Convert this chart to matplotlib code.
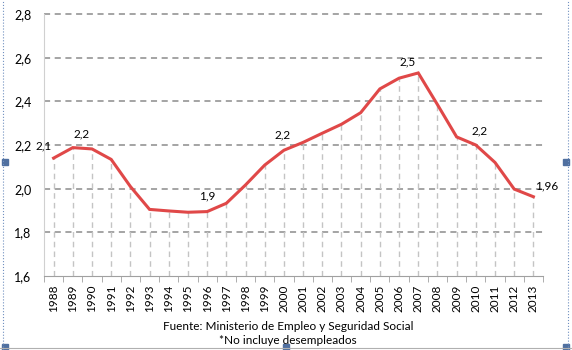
import numpy as np
import matplotlib.pyplot as plt
from matplotlib.patches import Rectangle

plt.rcParams['font.family'] = ['Lato', 'DejaVu Sans']

# datos
years = [str(y) for y in range(1988, 2014)]
values = [2.14, 2.188, 2.182, 2.134, 2.01, 1.905, 1.898, 1.892, 1.895, 1.933,
          2.017, 2.108, 2.176, 2.212, 2.254, 2.295, 2.348, 2.457, 2.506, 2.53,
          2.385, 2.237, 2.20, 2.12, 1.998, 1.963]
label_years = ['1988', '1989', '1996', '2000', '2007', '2010', '2013']
label_texts = ['2,1', '2,2', '1,9', '2,2', '2,5', '2,2', '1,96']
yticks = [1.6, 1.8, 2.0, 2.2, 2.4, 2.6, 2.8]

# desplazamiento de las etiquetas (px)
label_offsets = {'1988': (-10, 12), '1989': (8.5, 14), '1996': (0, 15.5),
                 '2000': (-1, 15), '2007': (-11, 11), '2010': (4, 14),
                 '2013': (2, 10.5)}

fig = plt.figure(figsize=(5.72, 3.5), dpi=100)
ax = fig.add_axes([44 / 572, 1 - 276 / 350, (543 - 44) / 572, (276 - 14) / 350])

x = np.arange(len(years))
ax.set_xlim(-0.5, len(years) - 0.5)
ax.set_ylim(1.6, 2.8)

# líneas de guía
for yv in yticks[1:]:
    ax.axhline(yv, color='#8c8c8c', lw=1.1, ls=(0, (4, 3)), zorder=1, clip_on=False)
ax.vlines(x, 1.6, values, colors='#c4c4c4', lw=1.0, linestyles=(0, (4, 3)), zorder=1)

ax.plot(x, values, color='#e04848', lw=2.2, solid_joinstyle='miter', zorder=3)

# etiquetas de datos
for yr, txt in zip(label_years, label_texts):
    i = years.index(yr)
    dx, dy = label_offsets[yr]
    ha = 'left' if yr == '2013' else 'center'
    ax.annotate(txt, (i, values[i]), xytext=(dx * 0.72, dy * 0.72),
                textcoords='offset points', ha=ha, va='center', fontsize=8.5)

for s in ['top', 'right']:
    ax.spines[s].set_visible(False)
ax.spines['left'].set_color('#d0d0d0')
ax.spines['bottom'].set_color('#a0a0a0')

ax.set_yticks(yticks)
ax.set_yticklabels([f'{t:.1f}'.replace('.', ',') for t in yticks], fontsize=9)
ax.tick_params(axis='y', length=0, pad=9)

ax.set_xticks(x)
ax.set_xticklabels(years, rotation=90, fontsize=8.5)
ax.tick_params(axis='x', which='major', length=0, pad=6)
ax.set_xticks(np.arange(-0.5, len(years)), minor=True)
ax.tick_params(axis='x', which='minor', length=4, color='#a0a0a0', direction='out')

fig.text(288 / 572, 1 - 326 / 350, 'Fuente: Ministerio de Empleo y Seguridad Social',
         ha='center', va='center', fontsize=8.5)
fig.text(288 / 572, 1 - 341 / 350, '*No incluye desempleados',
         ha='center', va='center', fontsize=8.5)

# marco de selección
fig.add_artist(plt.Line2D([3 / 572, 3 / 572], [0, 1], color='#7090c0', lw=0.8, ls=':'))
fig.add_artist(plt.Line2D([568 / 572, 568 / 572], [0, 1], color='#7090c0', lw=0.8, ls=':'))
fig.add_artist(plt.Line2D([0, 1], [2 / 350, 2 / 350], color='#b0b0b0', lw=0.8))
for px, py in [(5, 162), (566, 162), (5, 347), (286, 347), (566, 347)]:
    fig.add_artist(Rectangle(((px - 3) / 572, 1 - (py + 3) / 350), 6 / 572, 6 / 350,
                             color='#5070a0', transform=fig.transFigure))

fig.savefig('out.png', dpi=100)
